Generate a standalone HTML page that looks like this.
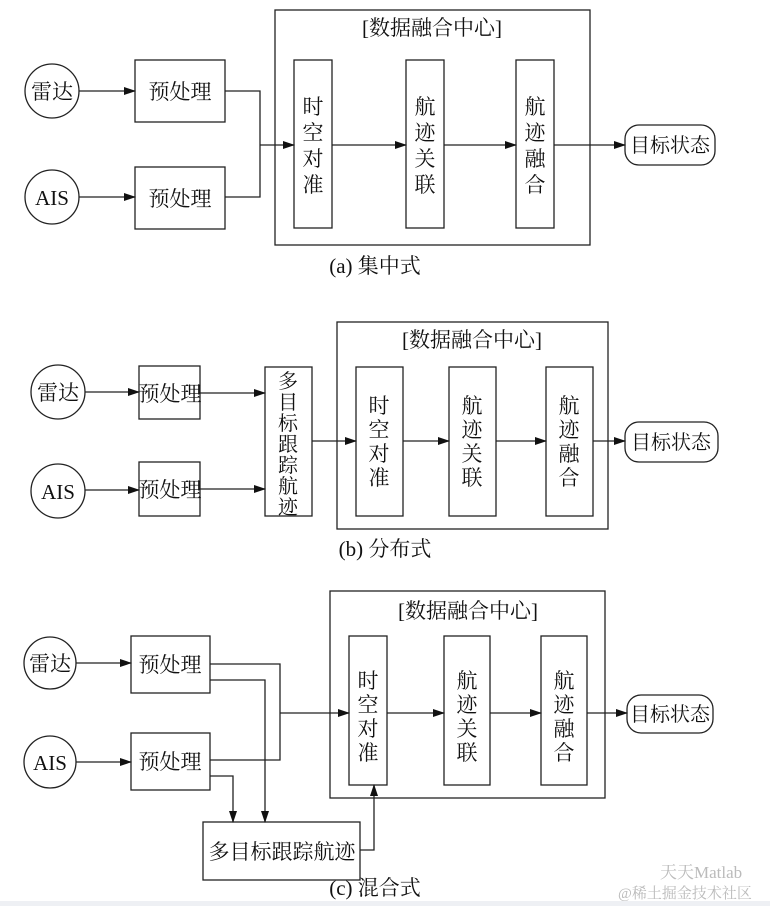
<!DOCTYPE html>
<html><head><meta charset="utf-8"><style>
html,body{margin:0;padding:0;background:#fff}
svg{display:block}
text{font-family:"Liberation Serif","Noto Serif CJK SC",serif;fill:#111}
</style></head><body>
<svg width="770" height="906" viewBox="0 0 770 906" xmlns="http://www.w3.org/2000/svg">
<defs><marker id="a" markerWidth="12" markerHeight="8" refX="11" refY="4" orient="auto" markerUnits="userSpaceOnUse"><path d="M0,0 L12,4 L0,8 Z" fill="#111"/></marker></defs>
<g stroke="#222" stroke-width="1.3" fill="none">
<rect x="275" y="10" width="315" height="235"/>
<rect x="294" y="60" width="38" height="168"/>
<rect x="406" y="60" width="38" height="168"/>
<rect x="516" y="60" width="38" height="168"/>
<circle cx="52" cy="91" r="27"/>
<circle cx="52" cy="197" r="27"/>
<rect x="135" y="60" width="90" height="62"/>
<rect x="135" y="167" width="90" height="62"/>
<rect x="625" y="125" width="90" height="40" rx="14"/>
<line x1="79" y1="91" x2="135" y2="91" marker-end="url(#a)"/>
<line x1="79" y1="197" x2="135" y2="197" marker-end="url(#a)"/>
<polyline points="225,91 260,91 260,197 225,197"/>
<line x1="260" y1="145" x2="294" y2="145" marker-end="url(#a)"/>
<line x1="332" y1="145" x2="406" y2="145" marker-end="url(#a)"/>
<line x1="444" y1="145" x2="516" y2="145" marker-end="url(#a)"/>
<line x1="554" y1="145" x2="625" y2="145" marker-end="url(#a)"/>
<rect x="337" y="322" width="271" height="207"/>
<rect x="356" y="367" width="47" height="149"/>
<rect x="449" y="367" width="47" height="149"/>
<rect x="546" y="367" width="47" height="149"/>
<circle cx="58" cy="392" r="27"/>
<circle cx="58" cy="491" r="27"/>
<rect x="139" y="366" width="61" height="53"/>
<rect x="139" y="462" width="61" height="54"/>
<rect x="265" y="367" width="47" height="149"/>
<rect x="625" y="422" width="93" height="40" rx="14"/>
<line x1="85" y1="392" x2="139" y2="392" marker-end="url(#a)"/>
<line x1="85" y1="490" x2="139" y2="490" marker-end="url(#a)"/>
<line x1="200" y1="393" x2="265" y2="393" marker-end="url(#a)"/>
<line x1="200" y1="489" x2="265" y2="489" marker-end="url(#a)"/>
<line x1="312" y1="441" x2="356" y2="441" marker-end="url(#a)"/>
<line x1="403" y1="441" x2="449" y2="441" marker-end="url(#a)"/>
<line x1="496" y1="441" x2="546" y2="441" marker-end="url(#a)"/>
<line x1="593" y1="441" x2="625" y2="441" marker-end="url(#a)"/>
<rect x="330" y="591" width="275" height="207"/>
<rect x="349" y="636" width="38" height="149"/>
<rect x="444" y="636" width="46" height="149"/>
<rect x="541" y="636" width="46" height="149"/>
<circle cx="50" cy="663" r="26"/>
<circle cx="50" cy="762" r="26"/>
<rect x="131" y="636" width="79" height="57"/>
<rect x="131" y="733" width="79" height="57"/>
<rect x="627" y="695" width="86" height="38" rx="14"/>
<rect x="203" y="822" width="157" height="58"/>
<line x1="76" y1="663" x2="131" y2="663" marker-end="url(#a)"/>
<line x1="76" y1="762" x2="131" y2="762" marker-end="url(#a)"/>
<polyline points="210,664 280,664 280,760 210,760"/>
<line x1="280" y1="713" x2="349" y2="713" marker-end="url(#a)"/>
<polyline points="210,680 265,680 265,822" marker-end="url(#a)"/>
<polyline points="210,776 233,776 233,822" marker-end="url(#a)"/>
<polyline points="360,850 374,850 374,785" marker-end="url(#a)"/>
<line x1="387" y1="713" x2="444" y2="713" marker-end="url(#a)"/>
<line x1="490" y1="713" x2="541" y2="713" marker-end="url(#a)"/>
<line x1="587" y1="713" x2="627" y2="713" marker-end="url(#a)"/>
</g>
<g font-size="21" text-anchor="middle">
<text x="432" y="35">[数据融合中心]</text>
<text x="52" y="99">雷达</text><text x="52" y="205">AIS</text>
<text x="180" y="99">预处理</text><text x="180" y="206">预处理</text>
<text x="670" y="152" font-size="20">目标状态</text>
<g><text x="313" y="114">时</text><text x="313" y="140">空</text><text x="313" y="166">对</text><text x="313" y="192">准</text></g>
<g><text x="425" y="114">航</text><text x="425" y="140">迹</text><text x="425" y="166">关</text><text x="425" y="192">联</text></g>
<g><text x="535" y="114">航</text><text x="535" y="140">迹</text><text x="535" y="166">融</text><text x="535" y="192">合</text></g>
<text x="375" y="273">(a) 集中式</text>
<text x="472" y="347">[数据融合中心]</text>
<text x="58" y="400">雷达</text><text x="58" y="499">AIS</text>
<text x="170" y="401">预处理</text><text x="170" y="497">预处理</text>
<text x="671" y="449" font-size="20">目标状态</text>
<g font-size="20"><text x="288" y="388">多</text><text x="288" y="409">目</text><text x="288" y="430">标</text><text x="288" y="451">跟</text><text x="288" y="472">踪</text><text x="288" y="493">航</text><text x="288" y="514">迹</text></g>
<g><text x="379" y="413">时</text><text x="379" y="437">空</text><text x="379" y="461">对</text><text x="379" y="485">准</text></g>
<g><text x="472" y="413">航</text><text x="472" y="437">迹</text><text x="472" y="461">关</text><text x="472" y="485">联</text></g>
<g><text x="569" y="413">航</text><text x="569" y="437">迹</text><text x="569" y="461">融</text><text x="569" y="485">合</text></g>
<text x="385" y="556">(b) 分布式</text>
<text x="468" y="618">[数据融合中心]</text>
<text x="50" y="671">雷达</text><text x="50" y="770">AIS</text>
<text x="170" y="672">预处理</text><text x="170" y="769">预处理</text>
<text x="670" y="721" font-size="20">目标状态</text>
<text x="282" y="859">多目标跟踪航迹</text>
<g><text x="368" y="688">时</text><text x="368" y="712">空</text><text x="368" y="736">对</text><text x="368" y="760">准</text></g>
<g><text x="467" y="688">航</text><text x="467" y="712">迹</text><text x="467" y="736">关</text><text x="467" y="760">联</text></g>
<g><text x="564" y="688">航</text><text x="564" y="712">迹</text><text x="564" y="736">融</text><text x="564" y="760">合</text></g>
<text x="375" y="895">(c) 混合式</text>
</g>
<text x="660" y="878" font-size="17" font-family="Liberation Sans,Noto Sans CJK SC,sans-serif" style="fill:#bbb">天天Matlab</text>
<text x="618" y="898" font-size="15" font-family="Liberation Sans,Noto Sans CJK SC,sans-serif" style="fill:#bbb">@稀土掘金技术社区</text>
<rect x="0" y="901" width="770" height="5" fill="#eef0f4"/>
</svg>
</body></html>
